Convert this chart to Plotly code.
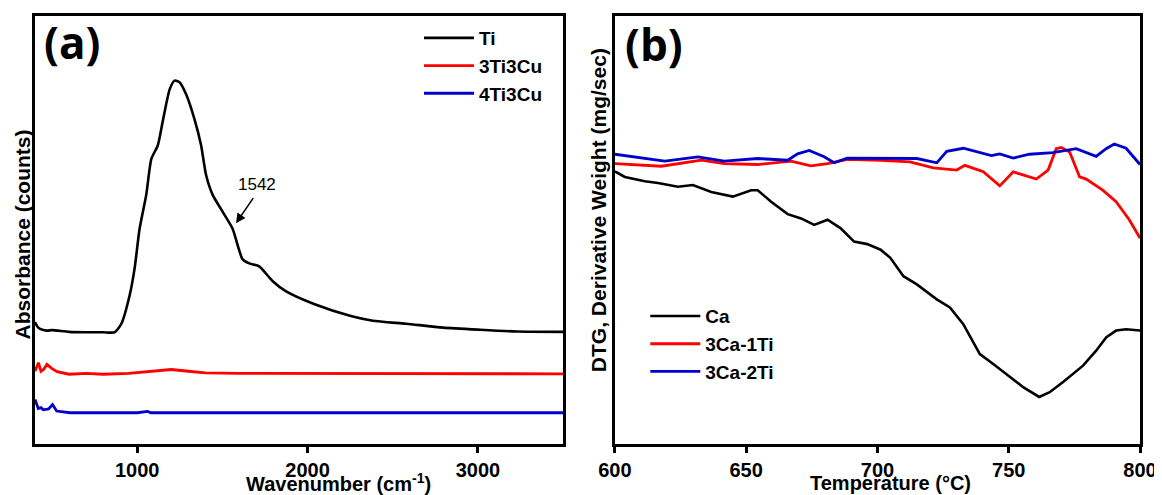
import plotly.graph_objects as go

# ---------------- Panel (a): absorbance vs wavenumber ----------------
ti_wn = [400, 415, 430, 470, 500, 600, 700, 800, 868, 907, 957, 985, 1014, 1053,
         1083, 1121, 1149, 1190, 1219, 1248, 1287, 1336, 1375, 1404, 1443, 1501,
         1560, 1618, 1658, 1716, 1794, 1872, 2038, 2254, 2383, 2579, 2796, 3013,
         3229, 3500]
ti_abs = [28.5, 27.4, 26.9, 26.5, 26.6, 26.2, 26.1, 26.1, 26.1, 28.1, 35.0, 41.1,
          50.3, 58.2, 66.6, 69.8, 75.2, 82.8, 84.9, 84.5, 81.7, 75.9, 69.8, 62.9,
          58.2, 54.3, 50.3, 43.2, 42.2, 41.5, 38.1, 35.7, 32.7, 29.9, 28.8, 28.1,
          27.2, 26.7, 26.3, 26.2]

cu3_wn = [400, 410, 420, 435, 450, 470, 500, 530, 600, 700, 800, 950, 1100, 1200,
          1300, 1400, 1600, 2000, 2500, 3000, 3500]
cu3_abs = [17.0, 18.2, 19.0, 17.0, 17.4, 18.6, 17.6, 16.9, 16.3, 16.5, 16.3, 16.5,
           17.1, 17.4, 17.0, 16.6, 16.5, 16.5, 16.5, 16.4, 16.4]

cu4_wn = [400, 410, 419, 435, 449, 480, 503, 527, 605, 800, 1000, 1061, 1080, 1500,
          2000, 2500, 3000, 3500]
cu4_abs = [10.4, 9.2, 8.3, 8.5, 8.0, 8.2, 9.2, 7.7, 7.3, 7.3, 7.3, 7.6, 7.3, 7.3,
           7.3, 7.3, 7.3, 7.3]

wn_ticks = [1000, 2000, 3000]

# ---------------- Panel (b): DTG vs temperature ----------------
ca_t = [600.0, 603.8, 611.4, 616.4, 624.0, 629.7, 636.7, 644.9, 651.9, 654.4,
        659.5, 665.8, 670.9, 675.9, 681.0, 686.0, 691.1, 696.1, 701.2, 704.9,
        709.9, 715.0, 722.6, 727.6, 732.7, 739.0, 744.1, 750.4, 755.5, 761.6,
        765.6, 770.7, 778.3, 783.3, 787.1, 790.9, 794.7, 800.0]
ca_dtg = [63.7, 62.4, 61.4, 61.0, 60.1, 60.5, 58.9, 57.8, 59.3, 59.3, 56.6, 53.7,
          52.7, 51.2, 52.4, 50.4, 47.3, 46.7, 45.4, 43.5, 39.2, 37.3, 33.8, 31.9,
          28.0, 21.0, 18.7, 15.6, 13.3, 11.0, 12.1, 14.5, 18.3, 21.8, 24.9, 26.5,
          26.8, 26.5]

ca1ti_t = [600.0, 606.3, 617.7, 632.9, 641.7, 654.4, 667.1, 674.6, 681.0, 688.5,
           701.2, 712.4, 721.3, 730.2, 733.3, 740.3, 746.6, 751.7, 755.5, 760.5,
           765.0, 768.1, 770.0, 773.2, 777.0, 779.5, 785.8, 790.9, 795.9, 800.0]
ca1ti_dtg = [65.5, 65.3, 64.9, 66.3, 65.5, 65.3, 66.1, 65.0, 65.5, 66.5, 66.3,
             65.9, 64.5, 64.0, 65.1, 63.6, 60.3, 63.6, 62.9, 61.9, 64.0, 69.0,
             69.3, 68.2, 62.4, 61.9, 59.3, 56.6, 52.4, 48.1]

ca2ti_t = [600.0, 607.6, 619.0, 631.6, 641.7, 654.4, 665.8, 669.6, 674.0, 679.7,
           683.5, 688.5, 701.2, 707.4, 715.0, 722.6, 726.4, 732.7, 739.0, 743.4,
           746.6, 751.7, 757.9, 766.8, 775.7, 783.3, 787.1, 790.2, 794.7, 800.0]
ca2ti_dtg = [67.7, 67.1, 66.1, 67.1, 66.1, 66.7, 66.3, 67.8, 68.6, 67.1, 65.7,
             66.8, 66.7, 66.8, 66.7, 65.7, 68.4, 69.1, 68.2, 67.4, 67.8, 66.8,
             67.7, 68.1, 69.0, 67.2, 69.0, 70.1, 69.1, 65.3]

temp_ticks = [600, 650, 700, 750, 800]

FONT = "Liberation Sans, Arial, sans-serif"
BLACK, RED, BLUE = "#000000", "#ff0000", "#0000cc"

fig = go.Figure()
fig.add_trace(go.Scatter(x=ti_wn, y=ti_abs, mode="lines", name="Ti",
                         line=dict(color=BLACK, width=2.6, shape="spline",
                                   smoothing=0.6), legend="legend"))
fig.add_trace(go.Scatter(x=cu3_wn, y=cu3_abs, mode="lines", name="3Ti3Cu",
                         line=dict(color=RED, width=2.8), legend="legend"))
fig.add_trace(go.Scatter(x=cu4_wn, y=cu4_abs, mode="lines", name="4Ti3Cu",
                         line=dict(color=BLUE, width=2.8), legend="legend"))

fig.add_trace(go.Scatter(x=ca_t, y=ca_dtg, mode="lines", name="Ca",
                         line=dict(color=BLACK, width=2.6),
                         xaxis="x2", yaxis="y2", legend="legend2"))
fig.add_trace(go.Scatter(x=ca1ti_t, y=ca1ti_dtg, mode="lines", name="3Ca-1Ti",
                         line=dict(color=RED, width=2.8),
                         xaxis="x2", yaxis="y2", legend="legend2"))
fig.add_trace(go.Scatter(x=ca2ti_t, y=ca2ti_dtg, mode="lines", name="3Ca-2Ti",
                         line=dict(color=BLUE, width=2.8),
                         xaxis="x2", yaxis="y2", legend="legend2"))

axis_common = dict(showline=True, linewidth=2.6, linecolor="black", mirror=True,
                   showgrid=False, zeroline=False)
tickfont = dict(family=FONT, size=20, color="black", weight="bold")
legfont = dict(family=FONT, size=19, color="black", weight="bold")

# the page body adds an 8 px offset, so the figure is 8 px smaller each way
fig.update_layout(
    width=1154, height=487,
    margin=dict(l=27, r=18, t=5, b=51),
    paper_bgcolor="white", plot_bgcolor="white",
    xaxis=dict(domain=[0, 0.4779], range=[400, 3500], tickvals=wn_ticks,
               ticks="outside", ticklen=6, tickwidth=2.6, tickcolor="black",
               tickfont=tickfont, anchor="y", **axis_common),
    yaxis=dict(domain=[0, 1], range=[0, 100], showticklabels=False, ticks="",
               anchor="x", **axis_common),
    xaxis2=dict(domain=[0.5248, 1], range=[600, 800], tickvals=temp_ticks,
                ticks="outside", ticklen=6, tickwidth=2.6, tickcolor="black",
                tickfont=tickfont, anchor="y2", **axis_common),
    yaxis2=dict(domain=[0, 1], range=[0, 100], showticklabels=False, ticks="",
                anchor="x2", **axis_common),
    legend=dict(x=0.3475, y=0.993, xanchor="left", yanchor="top", itemwidth=50,
                bgcolor="rgba(0,0,0,0)", borderwidth=0, tracegroupgap=0,
                font=legfont),
    legend2=dict(x=0.5523, y=0.343, xanchor="left", yanchor="top", itemwidth=50,
                 bgcolor="rgba(0,0,0,0)", borderwidth=0, tracegroupgap=0,
                 font=legfont),
    showlegend=True,
)

title_font = dict(family=FONT, size=20, color="black", weight="bold")
annos = [
    dict(text="Absorbance (counts)", x=-0.0117, y=0.4896, textangle=-90,
         font=dict(family=FONT, size=21, color="black", weight="bold")),
    dict(text="DTG, Derivative Weight (mg/sec)", x=0.5095, y=0.5464,
         textangle=-90, font=dict(family=FONT, size=21, color="black", weight="bold")),
    dict(text="Wavenumber (cm<sup>-1</sup>)", x=0.275, y=-0.0905, font=title_font),
    dict(text="Temperature (°C)", x=0.7746, y=-0.0905, font=title_font),
    dict(text="(a)", x=0.0338, y=0.94,
         font=dict(family="Open Sans, sans-serif", size=44, color="black", weight="bold")),
    dict(text="(b)", x=0.56, y=0.935,
         font=dict(family="Open Sans, sans-serif", size=44, color="black", weight="bold")),
]
for a in annos:
    fig.add_annotation(xref="paper", yref="paper", showarrow=False,
                       xanchor="center", yanchor="middle", **a)

fig.add_annotation(x=1580, y=51.6, xref="x", yref="y", ax=1687, ay=57.8,
                   axref="x", ayref="y", showarrow=True, arrowhead=2,
                   arrowsize=1.2, arrowwidth=1.6, arrowcolor="black", text="")
fig.add_annotation(x=1704, y=60.6, xref="x", yref="y", text="1542",
                   showarrow=False,
                   font=dict(family=FONT, size=17, color="black"))

fig.write_html("out.html")
